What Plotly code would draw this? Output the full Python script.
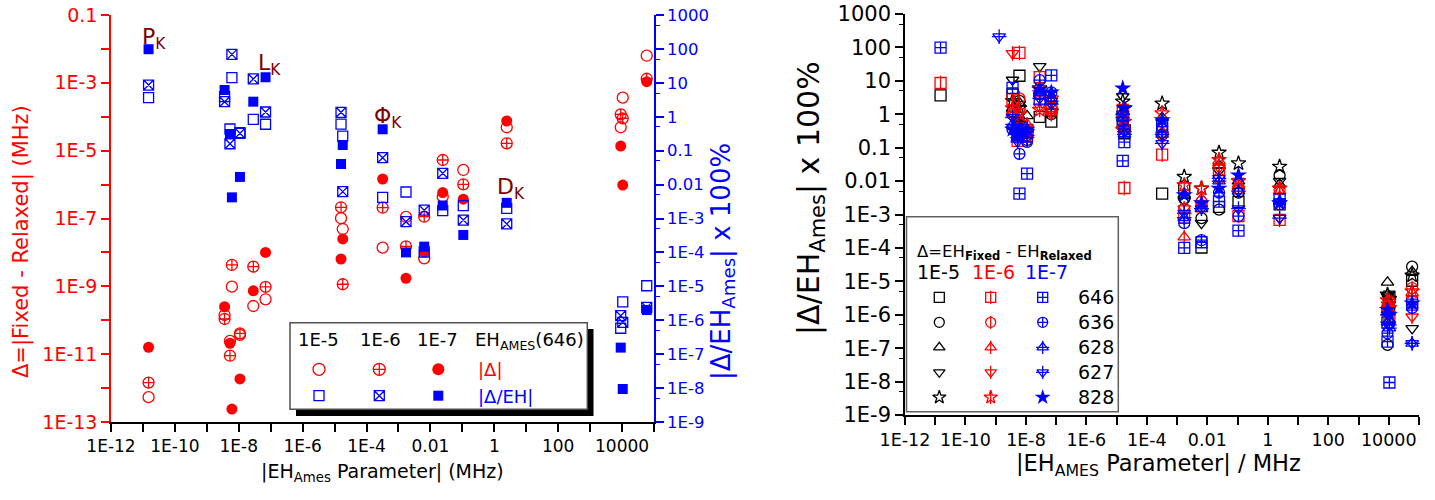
import plotly.graph_objects as go

W, H = 1435, 500
RED, BLUE, DKRED, BLACK = "#FF0000", "#0000FF", "#800000", "#000000"
FONT = "DejaVu Sans, Liberation Sans, Arial, sans-serif"

# ---------------- Left panel: isotopologue 646 ----------------
param_x = [1.5e-11, 3.6e-9, 6.1e-9, 5.3e-9, 1.09e-8, 2.85e-8, 6.9e-8, 1.59e-5, 1.8e-5,
           3.2e-4, 1.72e-3, 6.4e-3, 0.0243, 0.107, 2.45, 9080, 10500, 59200]
delta_1e5 = [5.4e-13, 1.43e-10, 9.8e-10, 2.45e-11, 3.7e-11, 2.63e-10, 4.15e-10, 1.02e-7, 4.9e-8,
             1.38e-8, 1.11e-7, 6.7e-9, 4.4e-7, 2.7e-6, 4.9e-5, 4.9e-5, 3.65e-4, 6.3e-3]
delta_1e6 = [1.45e-12, 1.09e-10, 4.27e-9, 9.0e-12, 4.1e-11, 3.8e-9, 9.6e-10, 2.14e-7, 1.15e-9,
             2.08e-7, 1.5e-8, 1.13e-7, 5.3e-6, 1.02e-6, 1.65e-5, 1.18e-4, 9.0e-5, 1.32e-3]
delta_1e7 = [1.6e-11, 2.5e-10, 2.4e-13, 2.1e-11, 1.86e-12, 7.4e-10, 1.0e-8, 6.4e-9, 2.5e-8,
             1.46e-6, 1.73e-9, 1.03e-8, 5.8e-7, 3.7e-7, 7.5e-5, 1.37e-5, 9.7e-7, 1.08e-3]
rel646_1e5 = [3.65, 3.9, 14.2, 0.435, 0.339, 0.84, 0.6, 0.61, 0.27,
              4.2e-3, 6.05e-3, 1.03e-4, 1.7e-3, 2.4e-3, 2.0e-3, 5.8e-7, 3.5e-6, 1.04e-5]
rel646_1e6 = [8.6, 2.78, 69, 0.16, 0.325, 13, 1.38, 1.35, 6.2e-3,
              0.062, 8.05e-4, 1.76e-3, 0.0215, 9.0e-4, 6.9e-4, 1.36e-6, 8.7e-7, 2.4e-6]
rel646_1e7 = [98, 6.15, 4.2e-3, 0.31, 0.0168, 2.78, 14.6, 0.0405, 0.147,
              0.427, 1.0e-4, 1.48e-4, 2.42e-3, 3.27e-4, 2.9e-3, 1.56e-7, 9.4e-9, 2.0e-6]

# ---------------- Right panel: other isotopologues ----------------
iso_x = [3.6e-9, 6.1e-9, 5.3e-9, 1.09e-8, 2.85e-8, 6.9e-8, 1.59e-5, 1.8e-5,
         3.2e-4, 1.72e-3, 6.4e-3, 0.0243, 0.107, 2.45, 9080, 10500, 59200]
rel636_1e5 = [1.2, 2.5, 0.4, 0.17, 4.0, 1.0, 0.9, 0.35, 0.24, 3.0e-3, 7.8e-4, 1.4e-3, 4.5e-3, 0.015, 1.25e-7, 1.6e-6, 2.75e-5]
rel636_1e6 = [1.0, 3.0, 0.25, 0.3, 6.0, 1.5, 0.8, 0.4, 0.35, 1.5e-3, 2.4e-3, 0.012, 6e-3, 5.5e-3, 1.4e-6, 2.5e-6, 6.3e-6]
rel636_1e7 = [0.35, 0.065, 0.2, 0.15, 10.5, 4.5, 0.6, 0.35, 0.43, 5.5e-4, 1.7e-4, 4.5e-3, 9e-4, 2.0e-3, 2.8e-7, 5.5e-7, 1.6e-6]
rel628_1e5 = [1.5, 2.2, 0.5, 0.9, 5.0, 1.8, 1.2, 0.5, 0.8, 4e-3, 1.5e-3, 0.03, 0.01, 8e-3, 9.3e-6, 3.5e-6, 1.95e-5]
rel628_1e6 = [1.2, 0.7, 0.3, 0.5, 4.0, 1.3, 0.5, 0.3, 0.3, 2.1e-4, 3e-3, 0.04, 8e-3, 5e-3, 2.0e-6, 1.2e-6, 4.5e-6]
rel628_1e7 = [0.5, 0.25, 0.2, 0.35, 5.0, 2.5, 0.8, 0.25, 0.25, 8e-4, 1.5e-3, 0.01, 5e-3, 2.5e-3, 6e-7, 4e-7, 1.4e-7]
iso627_x = [1.3e-9] + iso_x
rel627_1e5 = [None, 10.6, 2.0, 0.6, 0.25, 27, 2.5, 3.4, 0.4, 0.24, 2.5e-3, 5.5e-4, 0.02, 5e-3, 0.01, 3.5e-6, 2e-6, 3.9e-7]
rel627_1e6 = [None, 66, 1.2, 0.3, 0.4, 1.7, 1.0, 0.8, 0.3, 0.2, 1.5e-3, 2e-3, 0.025, 0.01, 7.8e-4, 2.0e-6, 1e-6, 8.7e-7]
rel627_1e7 = [210, 0.8, 0.5, 0.15, 0.2, 3.0, 2.0, 1.0, 0.3, 0.135, 1.1e-3, 1.5e-3, 0.012, 1.5e-3, 7.8e-4, 1e-6, 5e-7, 1.4e-7]
rel828_1e5 = [2.5, 1.5, 0.7, 0.3, 6.0, 1.2, 2.4, 1.5, 2.1, 0.0135, 6e-3, 0.071, 0.034, 0.027, 4e-6, 3e-6, 1.5e-5]
rel828_1e6 = [1.5, 1.0, 0.4, 0.2, 1.35, 3.0, 0.34, 0.6, 1.07, 7.6e-3, 6e-3, 0.043, 0.01, 6e-3, 2.7e-6, 1.6e-6, 5e-6]
rel828_1e7 = [0.35, 0.3, 0.25, 0.35, 5.5, 4.5, 6.0, 1.5, 0.67, 3.8e-3, 2.2e-3, 6e-3, 0.015, 2.2e-3, 1.4e-6, 1e-6, 2.2e-6]

iso_labels = ["646", "636", "628", "627", "828"]
thr_labels = ["1E-5", "1E-6", "1E-7"]

# tick values / labels
x_major = [1e-12, 1e-10, 1e-8, 1e-6, 1e-4, 1e-2, 1, 100, 10000]
x_major_text = ["1E-12", "1E-10", "1E-8", "1E-6", "1E-4", "0.01", "1", "100", "10000"]
x_odd = [1e-11, 1e-9, 1e-7, 1e-5, 1e-3, 1e-1, 10, 1000, 100000]
x_all = sorted(x_major + x_odd)
ly_major = [1e-13, 1e-11, 1e-9, 1e-7, 1e-5, 1e-3, 0.1]
ly_major_text = ["1E-13", "1E-11", "1E-9", "1E-7", "1E-5", "1E-3", "0.1"]
ly_odd = [1e-12, 1e-10, 1e-8, 1e-6, 1e-4, 1e-2]
r_major = [1e-9, 1e-8, 1e-7, 1e-6, 1e-5, 1e-4, 1e-3, 0.01, 0.1, 1, 10, 100, 1000]
r_major_text = ["1E-9", "1E-8", "1E-7", "1E-6", "1E-5", "1E-4", "1E-3", "0.01", "0.1", "1", "10", "100", "1000"]
x_five = [5 * 10.0 ** k for k in range(-12, 5)]
ly_five = [5 * 10.0 ** k for k in range(-13, -1)]
r_five = [5 * 10.0 ** k for k in range(-9, 3)]

fig = go.Figure()


def add(x, y, xa, ya, symbol, color, size, lw=1.3):
    filled = symbol in ("circle", "square", "star")
    fig.add_trace(go.Scatter(
        x=x, y=y, mode="markers", xaxis=xa, yaxis=ya, showlegend=False, hoverinfo="skip",
        cliponaxis=False,
        marker=dict(symbol=symbol, size=size, color=color,
                    line=dict(color=color, width=0 if filled else lw))))


# left panel
add(param_x, delta_1e5, "x", "y", "circle-open", RED, 11)
add(param_x, delta_1e6, "x", "y", "circle-cross-open", RED, 11)
add(param_x, delta_1e7, "x", "y", "circle", RED, 11)
add(param_x, rel646_1e5, "x", "y2", "square-open", BLUE, 10)
add(param_x, rel646_1e6, "x", "y2", "square-x-open", BLUE, 10)
add(param_x, rel646_1e7, "x", "y2", "square", BLUE, 10)

# right panel
series = [
    (param_x, rel646_1e5, rel646_1e6, rel646_1e7, "square"),
    (iso_x, rel636_1e5, rel636_1e6, rel636_1e7, "circle"),
    (iso_x, rel628_1e5, rel628_1e6, rel628_1e7, "triangle-up"),
    (iso627_x, rel627_1e5, rel627_1e6, rel627_1e7, "triangle-down"),
    (iso_x, rel828_1e5, rel828_1e6, rel828_1e7, "star"),
]


def draw_black(xa, ya, x, y, base, size):
    add(x, y, xa, ya, base + "-open", BLACK, size)


def draw_red(xa, ya, x, y, base, size):
    add(x, y, xa, ya, base + "-open", RED, size)
    add(x, y, xa, ya, "line-ns-open", RED, size * 0.95)


def draw_blue(xa, ya, x, y, base, size):
    if base == "square":
        add(x, y, xa, ya, "square-cross-open", BLUE, size)
    elif base == "circle":
        add(x, y, xa, ya, "circle-cross-open", BLUE, size)
    elif base == "star":
        add(x, y, xa, ya, "star", BLUE, size + 2)
    else:
        add(x, y, xa, ya, base + "-open", BLUE, size)
        add(x, y, xa, ya, "cross-thin-open", BLUE, size * 0.95)


for x, a, b, c, base in series:
    draw_black("x2", "y3", x, a, base, 11)
for x, a, b, c, base in series:
    draw_red("x2", "y3", x, b, base, 11)
for x, a, b, c, base in series:
    draw_blue("x2", "y3", x, c, base, 11)

# ---------------- legends (pixel overlay axis x9/y9) ----------------
add([319], [369.3], "x9", "y9", "circle-open", RED, 12)
add([379.3], [369.3], "x9", "y9", "circle-cross-open", RED, 12)
add([438.3], [369.3], "x9", "y9", "circle", RED, 12)
add([319], [395.7], "x9", "y9", "square-open", BLUE, 10)
add([379.3], [395.7], "x9", "y9", "square-x-open", BLUE, 10)
add([438.3], [395.7], "x9", "y9", "square", BLUE, 10)

row_y = [297.3, 322.3, 347.3, 372.3, 397.3]
for i, (x, a, b, c, base) in enumerate(series):
    draw_black("x9", "y9", [939.3], [row_y[i]], base, 10)
    draw_red("x9", "y9", [990.7], [row_y[i]], base, 10)
    draw_blue("x9", "y9", [1042.7], [row_y[i]], base, 10)

shapes = [
    dict(type="rect", xref="paper", yref="paper", layer="below",
         x0=296 / W, x1=593.5 / W, y0=1 - 416 / H, y1=1 - 329 / H,
         fillcolor="black", line=dict(width=0)),
    dict(type="rect", xref="paper", yref="paper", layer="below",
         x0=290 / W, x1=587.3 / W, y0=1 - 409.3 / H, y1=1 - 322.7 / H,
         fillcolor="white", line=dict(color="#505050", width=1.5)),
    dict(type="rect", xref="paper", yref="paper", layer="below",
         x0=906.5 / W, x1=1118.3 / W, y0=1 - 411.7 / H, y1=1 - 216.7 / H,
         fillcolor="white", line=dict(color="#606060", width=1.5)),
]

ann = []


def text(px, py, s, color=BLACK, size=18, xanchor="center", angle=0):
    ann.append(dict(x=px, y=py, xref="x9", yref="y9", text=s, showarrow=False,
                    font=dict(family=FONT, size=size, color=color),
                    xanchor=xanchor, yanchor="middle", textangle=angle))


# left legend texts
text(318, 339, thr_labels[0], size=18)
text(380, 339, thr_labels[1], size=18)
text(437, 339, thr_labels[2], size=18)
text(473, 341, "EH<sub>AMES</sub>(646)", size=18, xanchor="left")
text(476, 369, "|Δ|", color=RED, size=18, xanchor="left")
text(476, 396, "|Δ/EH|", color=BLUE, size=18, xanchor="left")

# right legend texts
text(915, 252, "Δ=EH<sub><b>Fixed</b></sub> - EH<sub><b>Relaxed</b></sub>", size=16.5, xanchor="left")
text(938.3, 272, thr_labels[0], size=19)
text(993.3, 272, thr_labels[1], color=RED, size=19)
text(1046.7, 272, thr_labels[2], color=BLUE, size=19)
for i, lab in enumerate(iso_labels):
    text(1076, row_y[i], lab, size=19, xanchor="left")

# parameter labels
text(154, 38, "P<sub>K</sub>", color=DKRED, size=22)
text(269, 64, "L<sub>K</sub>", color=DKRED, size=22)
text(388, 117, "Φ<sub>K</sub>", color=DKRED, size=22)
text(511, 188, "D<sub>K</sub>", color=DKRED, size=22)

# axis titles
text(21, 242, "Δ=|Fixed - Relaxed| (MHz)", color=RED, size=21, angle=-90)
text(722, 262, "|Δ/EH<sub>Ames</sub>| x 100%", color=BLUE, size=26, angle=-90)
text(382, 472, "|EH<sub>Ames</sub> Parameter| (MHz)", size=19)
text(810, 198, "|Δ/EH<sub>Ames</sub>| x 100%", size=30, angle=-90)
text(1158, 465, "|EH<sub>AMES</sub> Parameter| / MHz", size=22.5)

fig.update_layout(shapes=shapes, annotations=ann)


def logaxis(color, tickvals, ticktext, size, minor=None, minorlen=4, **kw):
    d = dict(type="log", showgrid=False, zeroline=False, showline=True, linecolor=color,
             linewidth=1.5, ticks="outside", ticklen=8, tickwidth=1.5, tickcolor=color,
             tickvals=tickvals, ticktext=ticktext, tickangle=0, automargin=False,
             tickfont=dict(family=FONT, size=size, color=color))
    if minor is not None:
        d["minor"] = dict(tickvals=minor, ticks="outside", ticklen=minorlen,
                          tickwidth=1.5 if minorlen > 5 else 1.2, tickcolor=color)
    d.update(kw)
    return d


def tickonly(color, tickvals, ticklen, ticks="outside", **kw):
    d = dict(type="log", showgrid=False, zeroline=False, showline=False, automargin=False,
             ticks=ticks, ticklen=ticklen, tickwidth=1.2, tickcolor=color,
             tickvals=tickvals, showticklabels=False)
    d.update(kw)
    return d


fig.update_layout(
    width=W, height=H, autosize=False,
    margin=dict(l=0, r=0, t=0, b=0, pad=0),
    paper_bgcolor="white", plot_bgcolor="rgba(0,0,0,0)",
    # left panel
    xaxis=logaxis(BLACK, x_major, x_major_text, 17, minor=x_odd, minorlen=8,
                  domain=[111 / W, 654 / W], range=[-12, 5], anchor="y"),
    yaxis=logaxis(RED, ly_major, ly_major_text, 19, minor=ly_odd, minorlen=8,
                  domain=[1 - 422 / H, 1 - 15 / H], range=[-13, -1], anchor="x"),
    yaxis2=logaxis(BLUE, r_major, r_major_text, 16.5, minor=r_five,
                   overlaying="y", side="right", range=[-9, 3], anchor="x"),
    xaxis3=dict(type="log", showgrid=False, zeroline=False, showline=True, linecolor=BLACK,
                linewidth=1.5, ticks="inside", ticklen=8, tickwidth=1.5, tickcolor=BLACK,
                tickvals=x_all, showticklabels=False, automargin=False,
                minor=dict(tickvals=x_five, ticks="inside", ticklen=4, tickwidth=1.2,
                           tickcolor=BLACK),
                overlaying="x", side="top", anchor="y", range=[-12, 5]),
    xaxis5=tickonly(BLACK, x_five, 4, overlaying="x", side="bottom", anchor="y",
                    range=[-12, 5]),
    yaxis5=tickonly(RED, ly_five, 4, overlaying="y", side="left", anchor="x",
                    range=[-13, -1]),
    # right panel
    xaxis2=logaxis(BLACK, x_major, x_major_text, 17.5, minor=x_odd, minorlen=8,
                   domain=[905 / W, 1419 / W], range=[-12, 5], anchor="y3"),
    xaxis6=tickonly(BLACK, x_five, 4, overlaying="x2", side="bottom", anchor="y3",
                    range=[-12, 5]),
    yaxis3=logaxis(BLACK, r_major, r_major_text, 21, minor=r_five,
                   domain=[1 - 415 / H, 1 - 14 / H], range=[-9, 3], anchor="x2"),
    # pixel overlay for legends / labels
    xaxis9=dict(domain=[0, 1], range=[0, W], anchor="y9", visible=False, fixedrange=True),
    yaxis9=dict(domain=[0, 1], range=[H, 0], anchor="x9", visible=False, fixedrange=True),
)

fig.write_html("out.html", config={"displayModeBar": False},
               post_script="document.body.style.margin='0px';document.body.style.overflow='hidden';")
